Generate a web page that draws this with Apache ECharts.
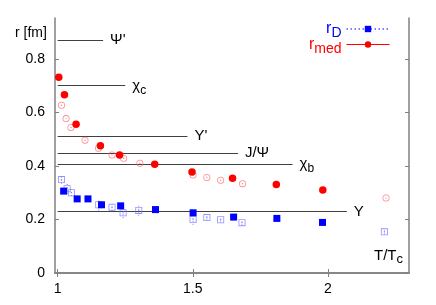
<!DOCTYPE html>
<html><head><meta charset="utf-8">
<script src="https://cdn.jsdelivr.net/npm/echarts@6/dist/echarts.min.js"></script>
<style>html,body{margin:0;padding:0;background:#fff}#c{width:436px;height:305px}</style>
</head><body><div id="c"></div>
<script>
// r_D (filled squares): [T/Tc, r]
const rD = [[1.022,0.306],[1.072,0.277],[1.112,0.277],[1.162,0.255],[1.233,0.251],[1.362,0.237],[1.501,0.225],[1.651,0.209],[1.811,0.204],[1.980,0.189]];
// r_med (filled circles)
const rMed = [[1.004,0.732],[1.025,0.666],[1.068,0.556],[1.158,0.476],[1.229,0.441],[1.359,0.406],[1.497,0.377],[1.647,0.354],[1.809,0.331],[1.981,0.310]];
// open squares (second r_D set) with error
const rDopen = [[1.014,0.349],[1.035,0.315],[1.051,0.300],[1.152,0.255],[1.201,0.246],[1.242,0.225],[1.300,0.234],[1.501,0.200],[1.552,0.207],[1.603,0.199],[1.682,0.188],[2.209,0.154]];
const rDopenErr = [0.015,0.02,0.012,0.022,0.015,0.02,0.02,0.02,0.01,0.01,0.01,0.01];
// open circles (second r_med set)
const rMedOpen = [[1.014,0.627],[1.031,0.577],[1.049,0.544],[1.101,0.496],[1.151,0.466],[1.201,0.441],[1.244,0.429],[1.304,0.410],[1.501,0.366],[1.552,0.357],[1.603,0.347],[1.684,0.334],[2.215,0.280]];
// quarkonium radii reference lines
const levelNames = ["Ψ'", "χc", "Υ'", "J/Ψ", "χb", "Υ"];
const levelLabels = ["Ψ'", "χ{s|c}", "Υ'", "J/Ψ", "χ{s|b}", "Υ"];
const levelR = [0.871, 0.700, 0.511, 0.449, 0.407, 0.229];
const levelEnd = [1.168, 1.25, 1.48, 1.667, 1.869, 2.07];
const xTicks = [1, 1.5, 2];
const yTicks = [0, 0.2, 0.4, 0.6, 0.8];

const ringCircle = 'path://M10 0A10 10 0 1 1 10 20A10 10 0 1 1 10 0ZM10 2.2A7.8 7.8 0 1 0 10 17.8A7.8 7.8 0 1 0 10 2.2ZM10 8A2 2 0 1 1 10 12A2 2 0 1 1 10 8Z';
const ringSquare = 'path://M0 0H10V10H0ZM1.2 1.2V8.8H8.8V1.2ZM4.1 4.1H5.9V5.9H4.1Z';

const chart = echarts.init(document.getElementById('c'));
const axisCol = '#808080';
const font = 'Liberation Sans, Arial, sans-serif';
const sub = {s:{fontSize:12, padding:[9,0,0,0], fontFamily:font}};

chart.setOption({
  animation:false,
  textStyle:{fontFamily:font},
  grid:{left:55, right:27, top:18, bottom:32},
  xAxis:[{type:'value', min:0.99, max:2.3, splitLine:{show:false},
    axisLine:{lineStyle:{color:axisCol, width:1.5}},
    axisTick:{inside:true, length:4, customValues:xTicks, lineStyle:{color:axisCol}},
    axisLabel:{customValues:xTicks, color:'#000', fontSize:14, margin:9, fontFamily:font, formatter:v=>String(v)}},
    {type:'value', position:'top', min:0.99, max:2.3, splitLine:{show:false},
    axisLine:{show:true, lineStyle:{color:axisCol, width:1.5}},
    axisTick:{inside:true, length:4, customValues:xTicks, lineStyle:{color:axisCol}},
    axisLabel:{show:false}}],
  yAxis:[{type:'value', min:0, max:0.953, splitLine:{show:false},
    axisLine:{show:true, lineStyle:{color:axisCol, width:1.5}},
    axisTick:{show:true, inside:true, length:4, customValues:yTicks, lineStyle:{color:axisCol}},
    axisLabel:{customValues:yTicks, color:'#000', fontSize:14, margin:10, fontFamily:font, formatter:v=>String(v)}},
    {type:'value', position:'right', min:0, max:0.953, splitLine:{show:false},
    axisLine:{show:true, lineStyle:{color:axisCol, width:1.5}},
    axisTick:{show:true, inside:true, length:4, customValues:yTicks, lineStyle:{color:axisCol}},
    axisLabel:{show:false}}],
  legend:{orient:'vertical', right:46, top:21, padding:0, align:'right', itemWidth:43, itemHeight:8, itemGap:-4,
    data:[
      {name:'rD', itemStyle:{color:'#0000ff'}, lineStyle:{type:[1.5,2.5], color:'#0000ff', width:1, opacity:1}},
      {name:'rmed', itemStyle:{color:'#ff0000'}, lineStyle:{type:'solid', color:'#ff0000', width:1, opacity:1}}],
    formatter:n=> n==='rD' ? '{r|r}{d|D}' : '{m|r}{e|med}',
    textStyle:{fontSize:15, fontFamily:font, rich:{
      r:{color:'#0000ff', fontSize:16, fontFamily:font},
      d:{color:'#0000ff', fontSize:14, padding:[9,0,0,0], fontFamily:font},
      m:{color:'#ff0000', fontSize:16, fontFamily:font},
      e:{color:'#ff0000', fontSize:14, padding:[9,0,0,0], fontFamily:font}}}},
  graphic:[
    {type:'text', left:15, top:26, style:{text:'r [fm]', fontSize:14, fontFamily:font, fill:'#000'}},
    {type:'text', right:33, top:248, style:{text:'{a|T/T}{b|c}', fontSize:15, fontFamily:font, fill:'#000',
      rich:{a:{fontSize:15, fontFamily:font}, b:{fontSize:13, padding:[8,0,0,0], fontFamily:font}}}}
  ],
  series:[
    {name:'levels', type:'line', data:[], silent:true, z:1,
      markLine:{silent:true, z:1, symbol:['none','none'], animation:false,
        lineStyle:{color:'#404040', width:1, type:'solid'},
        label:{show:true, position:'end', distance:7, color:'#000', fontSize:15, fontFamily:font,
          rich:sub, formatter:p=>levelLabels[p.dataIndex]},
        emphasis:{disabled:true},
        data: levelR.map((r,i)=>[{coord:[1.0, r], name:levelNames[i]},{coord:[levelEnd[i], r]}])}},
    {name:'errOpen', type:'custom', silent:true, z:2,
      data: rDopen.map((p,i)=>[p[0], p[1]-rDopenErr[i], p[1]+rDopenErr[i]]),
      renderItem:(params, api)=>{
        const a = api.coord([api.value(0), api.value(1)]);
        const b = api.coord([api.value(0), api.value(2)]);
        return {type:'line', shape:{x1:a[0], y1:a[1], x2:b[0], y2:b[1]},
          style:{stroke:'#8080ff', lineWidth:1, lineDash:[1,2]}};
      }},
    {name:'rDopen', type:'scatter', data:rDopen, symbol:ringSquare, symbolSize:7,
      itemStyle:{color:'#7878ff'}, z:3},
    {name:'rMedOpen', type:'scatter', data:rMedOpen, symbol:ringCircle, symbolSize:7,
      itemStyle:{color:'#ff6a6a'}, z:3},
    {name:'rD', type:'line', data:rD, symbol:'rect', symbolSize:7, showSymbol:true,
      lineStyle:{opacity:0, type:[1.5,2.5], color:'#0000ff'}, itemStyle:{color:'#0000ff'}, z:4},
    {name:'rmed', type:'line', data:rMed, symbol:'circle', symbolSize:7.5, showSymbol:true,
      lineStyle:{opacity:0, color:'#ff0000'}, itemStyle:{color:'#ff0000'}, z:4}
  ]
});
</script></body></html>
